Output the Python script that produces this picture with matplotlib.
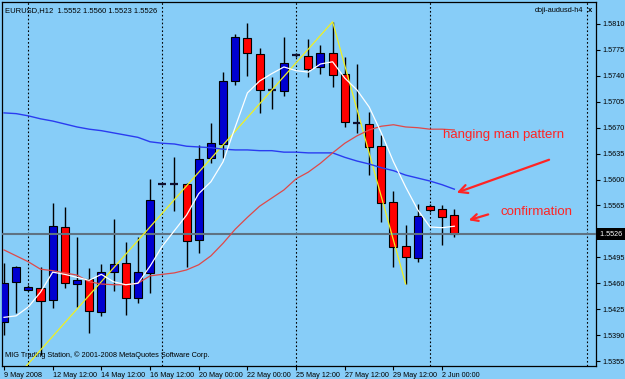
"""EURUSD H12 candlestick chart (MetaTrader style) with moving averages and zigzag."""
import matplotlib.pyplot as plt
import numpy as np

# candle data, 9 May 2008 00:00 .. 2 Jun 2008 12:00 (H12 bars)
opens = [1.5408, 1.5462, 1.5451, 1.5454, 1.5437, 1.5536, 1.5459, 1.5466, 1.5421, 1.5475,
         1.5487, 1.5440, 1.5474, 1.5594, 1.5594, 1.5594, 1.5518, 1.5629, 1.5648, 1.5733,
         1.5791, 1.5770, 1.5721, 1.5720, 1.5768, 1.5767, 1.5752, 1.5771, 1.5742, 1.5676,
         1.5675, 1.5645, 1.5570, 1.5510, 1.5494, 1.5564, 1.5560, 1.5552]
highs = [1.5487, 1.5483, 1.5458, 1.5482, 1.5568, 1.5563, 1.5522, 1.5481, 1.5486, 1.5547,
         1.5516, 1.5522, 1.5601, 1.5596, 1.5630, 1.5595, 1.5647, 1.5676, 1.5745, 1.5797,
         1.5811, 1.5778, 1.5738, 1.5792, 1.5771, 1.5790, 1.5782, 1.5813, 1.5765, 1.5756,
         1.5691, 1.5660, 1.5585, 1.5539, 1.5567, 1.5567, 1.5566, 1.5560]
lows = [1.5390, 1.5420, 1.5450, 1.5363, 1.5427, 1.5454, 1.5428, 1.5393, 1.5416, 1.5450,
        1.5417, 1.5433, 1.5447, 1.5592, 1.5557, 1.5482, 1.5501, 1.5622, 1.5629, 1.5728,
        1.5740, 1.5690, 1.5695, 1.5713, 1.5765, 1.5738, 1.5742, 1.5725, 1.5671, 1.5663,
        1.5606, 1.5543, 1.5482, 1.5459, 1.5489, 1.5556, 1.5512, 1.5523]
closes = [1.5460, 1.5482, 1.5455, 1.5436, 1.5537, 1.5460, 1.5464, 1.5423, 1.5475, 1.5486,
          1.5440, 1.5475, 1.5572, 1.5594, 1.5594, 1.5517, 1.5628, 1.5649, 1.5733, 1.5792,
          1.5771, 1.5721, 1.5721, 1.5757, 1.5768, 1.5749, 1.5771, 1.5741, 1.5678, 1.5676,
          1.5644, 1.5568, 1.5509, 1.5495, 1.5551, 1.5559, 1.5550, 1.5526]

# moving averages
ma_fast = [1.5414, 1.5416, 1.5428, 1.5448, 1.5475, 1.5472, 1.5468, 1.5464, 1.5472, 1.5462,
           1.5458, 1.5460, 1.5483, 1.5510, 1.5531, 1.5552, 1.5581, 1.5597, 1.5624, 1.5671,
           1.5717, 1.5733, 1.5743, 1.5752, 1.5747, 1.5745, 1.5756, 1.5759, 1.5737, 1.5721,
           1.5698, 1.5663, 1.5624, 1.5590, 1.5559, 1.5536, 1.5535, 1.5537]
ma_mid = [1.5505, 1.5497, 1.5489, 1.5479, 1.5477, 1.5474, 1.5471, 1.5462, 1.5459, 1.5458,
          1.5458, 1.5460, 1.5470, 1.5472, 1.5474, 1.5478, 1.5485, 1.5497, 1.5514, 1.5533,
          1.5549, 1.5564, 1.5575, 1.5586, 1.5601, 1.5610, 1.5622, 1.5636, 1.5649, 1.5659,
          1.5667, 1.5672, 1.5674, 1.5671, 1.5670, 1.5668, 1.5668, 1.5667]
ma_slow = [1.5690, 1.5689, 1.5686, 1.5682, 1.5679, 1.5675, 1.5671, 1.5668, 1.5666, 1.5663,
           1.5660, 1.5657, 1.5651, 1.5649, 1.5648, 1.5645, 1.5644, 1.5643, 1.5641, 1.5640,
           1.5640, 1.5639, 1.5639, 1.5637, 1.5637, 1.5636, 1.5636, 1.5636, 1.5630, 1.5625,
           1.5621, 1.5616, 1.5612, 1.5606, 1.5602, 1.5598, 1.5593, 1.5587]

# zigzag turning points (first one lies before the visible bars)
zz_idx = [-1, 27, 33]
zz_price = [1.5296, 1.5813, 1.5459]

tick_idx = [0, 4, 8, 12, 16, 20, 24, 28, 32, 36]
tick_labels = ["9 May 2008", "12 May 12:00", "14 May 12:00", "16 May 12:00",
               "20 May 00:00", "22 May 00:00", "25 May 12:00", "27 May 12:00",
               "29 May 12:00", "2 Jun 00:00"]
separators = [2, 13, 24, 35, 47.9]
price_ticks = np.round(np.arange(1.5355, 1.58101, 0.0035), 4)
bid = 1.5526

bg = "#87cdf8"
plt.rcParams["font.family"] = ["Liberation Sans", "DejaVu Sans"]

fig = plt.figure(figsize=(6.25, 3.79), dpi=100, facecolor=bg)
ax = fig.add_axes([2 / 625, 13 / 379, 594 / 625, 364 / 379], facecolor=bg)

o = np.array(opens)
h = np.array(highs)
l = np.array(lows)
c = np.array(closes)
x = np.arange(len(o))

for s in separators:
    ax.axvline(s, color="black", lw=0.8, ls=(0, (1.5, 2)), zorder=1)

ax.vlines(x, l, h, color="black", lw=1, zorder=2)
doji = o == c
body_col = np.where(c > o, "#0000d0", "#ff0000")
nd = ~doji
ax.bar(x[nd], np.abs(c - o)[nd], bottom=np.minimum(o, c)[nd], width=0.66,
       color=body_col[nd], edgecolor="black", lw=0.8, zorder=3)
ax.hlines(o[doji], x[doji] - 0.33, x[doji] + 0.33, color="#101030", lw=1.6, zorder=3)

ax.axhline(bid, color="#5f7282", lw=1.5, zorder=4)

ax.plot(zz_idx, zz_price, color="#f0f020", lw=0.9, zorder=5)
ax.plot(x, ma_slow, color="#2a3cf0", lw=1.0, zorder=5)
ax.plot(x, ma_mid, color="#e04848", lw=0.9, zorder=5)
ax.plot(x, ma_fast, color="white", lw=0.9, zorder=6)

ax.set_xlim(-0.164, 48.64)
ax.set_ylim(1.53483, 1.58397)

ax.yaxis.tick_right()
ax.set_yticks(price_ticks)
# the label at the bid level sits under the black price box
ax.set_yticklabels(["" if abs(p - bid) < 0.001 else f"{p:.4f}" for p in price_ticks])
ax.set_xticks(tick_idx)
ax.set_xticklabels(tick_labels, ha="left")
ax.tick_params(axis="both", direction="out", length=3, width=0.8, pad=1.5,
               labelsize=5.2, colors="black")
ax.tick_params(axis="x", pad=1)
for sp in ax.spines.values():
    sp.set_color("black")
    sp.set_linewidth(0.9)

ax.text(1.004, bid, " 1.5526 ", transform=ax.get_yaxis_transform(), ha="left", va="center",
        color="white", fontsize=5.2, clip_on=False, zorder=10,
        bbox=dict(boxstyle="square,pad=0.35", fc="black", ec="none"))

ax.text(0.005, 0.985, "EURUSD,H12  1.5552 1.5560 1.5523 1.5526", transform=ax.transAxes,
        ha="left", va="top", fontsize=5.5)
ax.text(0.978, 0.985, "doji-audusd-h4", transform=ax.transAxes, ha="right", va="top",
        fontsize=5.3)
ax.text(0.99, 0.985, "x", transform=ax.transAxes, ha="center", va="top", fontsize=5.5,
        fontweight="bold")
ax.text(0.005, 0.02, "MIG Trading Station, \u00a9 2001-2008 MetaQuotes Software Corp.",
        transform=ax.transAxes, ha="left", va="bottom", fontsize=5.3)

red = "#ff2424"
ax.text(36.07, 1.5660, "hanging man pattern", color=red, fontsize=9.5, va="center", zorder=8)
ax.text(40.76, 1.5556, "confirmation", color=red, fontsize=9.5, va="center", zorder=8)
ax.annotate("", xy=(36.98, 1.5581), xytext=(45.0, 1.5628),
            arrowprops=dict(arrowstyle="->,head_length=0.6,head_width=0.3", color=red, lw=1.6),
            zorder=8)
ax.annotate("", xy=(37.96, 1.5544), xytext=(40.0, 1.5554),
            arrowprops=dict(arrowstyle="->,head_length=0.5,head_width=0.25", color=red, lw=1.6),
            zorder=8)

fig.savefig("out.png", dpi=100, facecolor=bg)
